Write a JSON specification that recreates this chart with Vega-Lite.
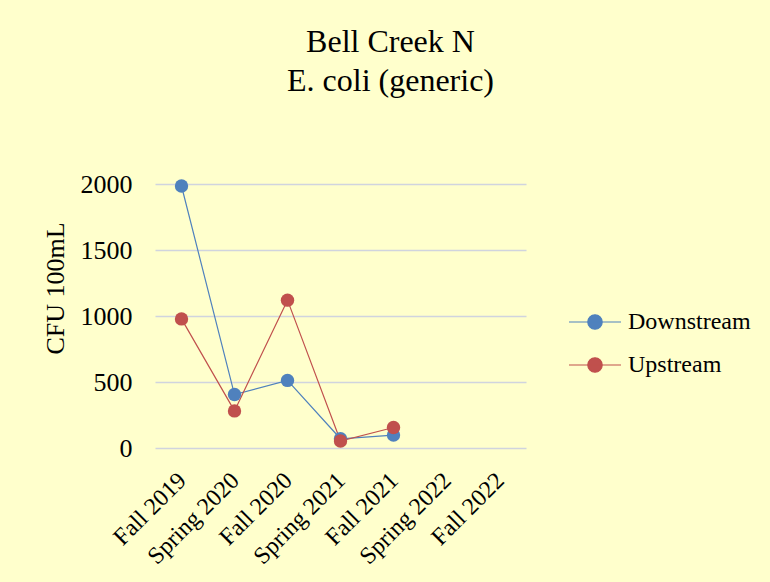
{
  "$schema": "https://vega.github.io/schema/vega-lite/v6.json",
  "autosize": {"type": "none"},
  "width": 371,
  "height": 264,
  "padding": {"left": 155, "top": 184, "right": 244, "bottom": 134},
  "background": "#FFFFCC",
  "config": {
    "font": "Liberation Serif",
    "view": {"stroke": null}
  },
  "title": {
    "text": ["Bell Creek N", "E. coli (generic)"],
    "font": "Liberation Serif",
    "fontSize": 32,
    "fontWeight": "normal",
    "color": "#000000",
    "lineHeight": 39,
    "anchor": "middle",
    "dx": 50,
    "offset": 73
  },
  "data": {
    "values": [
      {"season": "Fall 2019", "site": "Downstream", "cfu": 1985},
      {"season": "Spring 2020", "site": "Downstream", "cfu": 405},
      {"season": "Fall 2020", "site": "Downstream", "cfu": 512},
      {"season": "Spring 2021", "site": "Downstream", "cfu": 70},
      {"season": "Fall 2021", "site": "Downstream", "cfu": 98},
      {"season": "Fall 2019", "site": "Upstream", "cfu": 978},
      {"season": "Spring 2020", "site": "Upstream", "cfu": 281},
      {"season": "Fall 2020", "site": "Upstream", "cfu": 1120},
      {"season": "Spring 2021", "site": "Upstream", "cfu": 53},
      {"season": "Fall 2021", "site": "Upstream", "cfu": 155}
    ]
  },
  "encoding": {
    "x": {
      "field": "season",
      "type": "ordinal",
      "sort": null,
      "scale": {
        "type": "point",
        "padding": 0.5,
        "domain": ["Fall 2019", "Spring 2020", "Fall 2020", "Spring 2021", "Fall 2021", "Spring 2022", "Fall 2022"]
      },
      "axis": {
        "title": null,
        "domain": false,
        "ticks": false,
        "tickSize": 0,
        "grid": false,
        "labelAngle": -45,
        "labelFont": "Liberation Serif",
        "labelFontSize": 24,
        "labelColor": "#000000",
        "labelPadding": 20,
        "labelOffset": -8,
        "labelOverlap": false
      }
    },
    "y": {
      "field": "cfu",
      "type": "quantitative",
      "scale": {"domain": [0, 2000], "nice": false},
      "axis": {
        "title": "CFU 100mL",
        "titleFont": "Liberation Serif",
        "titleFontSize": 26,
        "titleFontWeight": "normal",
        "titleColor": "#000000",
        "titleAngle": -90,
        "titleAlign": "center",
        "titleBaseline": "middle",
        "titleX": -100,
        "titleY": 104,
        "values": [0, 500, 1000, 1500, 2000],
        "format": "d",
        "domain": false,
        "ticks": false,
        "tickSize": 0,
        "grid": true,
        "gridColor": "#d0d4de",
        "gridWidth": 1.6,
        "labelFont": "Liberation Serif",
        "labelFontSize": 26,
        "labelColor": "#000000",
        "labelPadding": 23
      }
    },
    "color": {
      "field": "site",
      "type": "nominal",
      "scale": {"domain": ["Downstream", "Upstream"], "range": ["#4F81BD", "#C0504D"]},
      "legend": {
        "title": null,
        "orient": "none",
        "legendX": 419,
        "legendY": 117,
        "padding": 0,
        "symbolType": "M-1.3,0L1.3,0M-0.36,0A0.36,0.36,0,1,1,0.36,0A0.36,0.36,0,1,1,-0.36,0Z",
        "symbolSize": 1600,
        "symbolStrokeWidth": 1.2,
        "labelFont": "Liberation Serif",
        "labelFontSize": 24,
        "labelColor": "#000000",
        "labelOffset": 12,
        "rowPadding": 10,
        "labelLimit": 300,
        "encode": {
          "symbols": {
            "update": {
              "fill": {"scale": "color", "field": "value"},
              "stroke": {"scale": "color", "field": "value"},
              "opacity": {"value": 1}
            }
          }
        }
      }
    }
  },
  "layer": [
    {"mark": {"type": "line", "strokeWidth": 1.2}},
    {"mark": {"type": "point", "filled": true, "size": 180, "opacity": 1}}
  ]
}
